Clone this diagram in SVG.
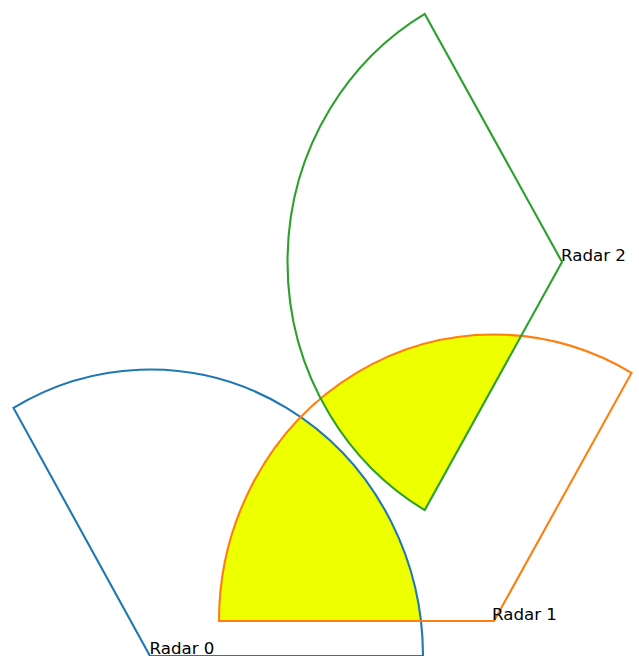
<svg xmlns="http://www.w3.org/2000/svg" width="639" height="656" viewBox="0 0 639 656">
<style>
.s{fill:none;stroke-width:2.1;stroke-linejoin:miter}
.lbl{font-family:"DejaVu Sans",sans-serif;font-size:16.67px;fill:#000}
.y{fill:#eeff00;stroke:none}
</style>
<defs>
<clipPath id="c1"><path d="M 494,621 L 631.5,372.9 A 275 286.5 0 0 0 219,621 Z"/></clipPath>
</defs>
<rect width="639" height="656" fill="#fff"/>
<g id="overlap" clip-path="url(#c1)">
<path class="y" d="M 150,656 L 423,656 A 273 286.5 0 0 0 13.5,407.9 Z"/>
<path class="y" d="M 562,262 L 424.75,13.9 A 274.5 286.5 0 0 0 424.75,510.1 Z"/>
</g>
<g id="radar0">
<path class="s" stroke="#1f77b4" d="M 150,656 L 423,656 A 273 286.5 0 0 0 13.5,407.9 Z"/>
<text class="lbl" x="149.5" y="654">Radar 0</text>
</g>
<g id="radar1">
<path class="s" stroke="#ff7f0e" d="M 494,621 L 631.5,372.9 A 275 286.5 0 0 0 219,621 Z"/>
<text class="lbl" x="492" y="620">Radar 1</text>
</g>
<g id="radar2">
<path class="s" stroke="#2ca02c" d="M 562,262 L 424.75,13.9 A 274.5 286.5 0 0 0 424.75,510.1 Z"/>
<text class="lbl" x="561" y="261">Radar 2</text>
</g>
</svg>
